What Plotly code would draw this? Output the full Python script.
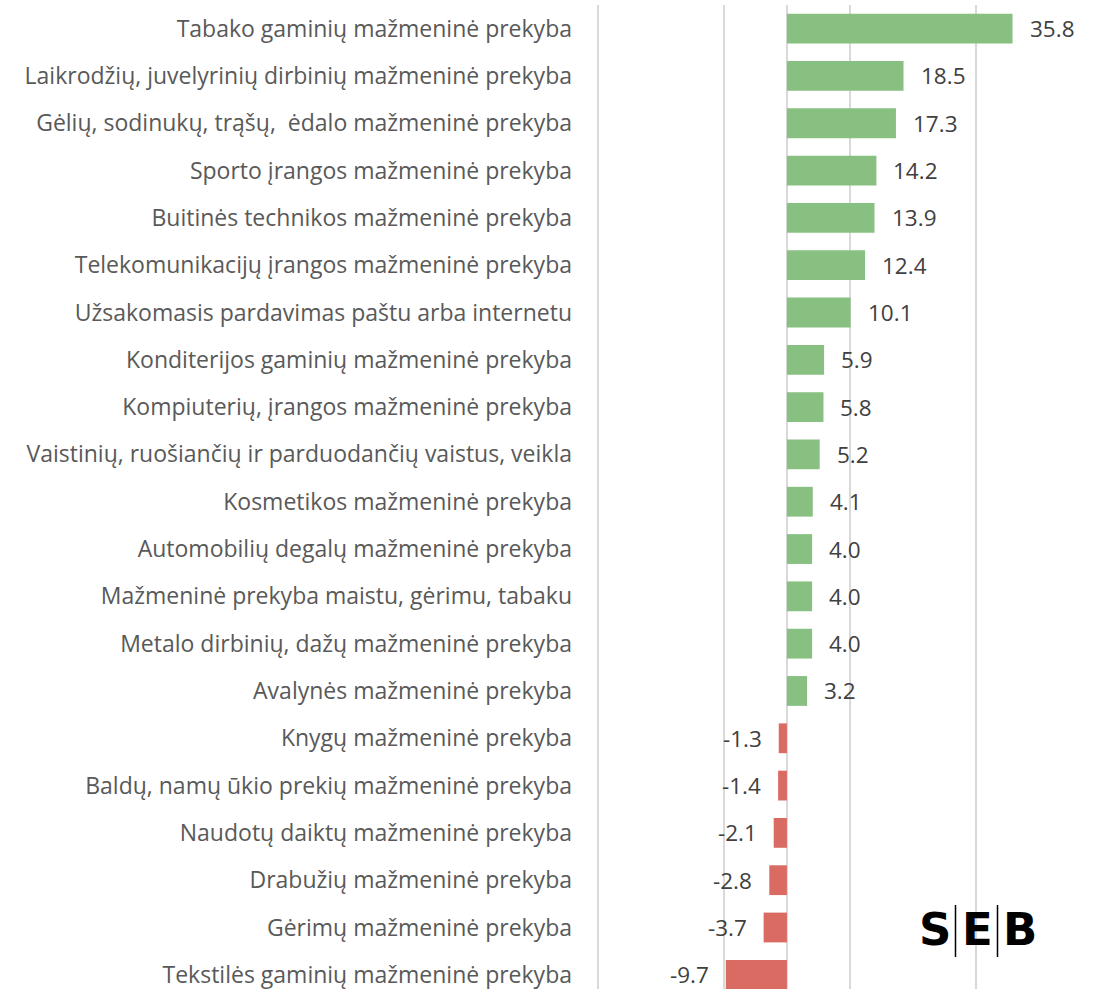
import plotly.graph_objects as go

categories = [
    "Tabako gaminių mažmeninė prekyba",
    "Laikrodžių, juvelyrinių dirbinių mažmeninė prekyba",
    "Gėlių, sodinukų, trąšų,\u00a0 ėdalo mažmeninė prekyba",
    "Sporto įrangos mažmeninė prekyba",
    "Buitinės technikos mažmeninė prekyba",
    "Telekomunikacijų įrangos mažmeninė prekyba",
    "Užsakomasis pardavimas paštu arba internetu",
    "Konditerijos gaminių mažmeninė prekyba",
    "Kompiuterių, įrangos mažmeninė prekyba",
    "Vaistinių, ruošiančių ir parduodančių vaistus, veikla",
    "Kosmetikos mažmeninė prekyba",
    "Automobilių degalų mažmeninė prekyba",
    "Mažmeninė prekyba maistu, gėrimu, tabaku",
    "Metalo dirbinių, dažų mažmeninė prekyba",
    "Avalynės mažmeninė prekyba",
    "Knygų mažmeninė prekyba",
    "Baldų, namų ūkio prekių mažmeninė prekyba",
    "Naudotų daiktų mažmeninė prekyba",
    "Drabužių mažmeninė prekyba",
    "Gėrimų mažmeninė prekyba",
    "Tekstilės gaminių mažmeninė prekyba",
]
values = [35.8, 18.5, 17.3, 14.2, 13.9, 12.4, 10.1, 5.9, 5.8, 5.2, 4.1, 4.0,
          4.0, 4.0, 3.2, -1.3, -1.4, -2.1, -2.8, -3.7, -9.7]
grid_values = [-30, -10, 0, 10, 30, 50]

GREEN = "#88c081"
RED = "#d96b63"
colors = [GREEN if v >= 0 else RED for v in values]
FONT = "Open Sans, sans-serif"

W, H = 1102, 989
ML, MR, MT, MB = 596, 0, 5, 0
PW, PH = W - ML - MR, H - MT - MB

fig = go.Figure()
fig.add_trace(go.Bar(
    y=categories, x=values, orientation="h",
    marker=dict(color=colors, line=dict(width=0)),
    width=0.63, hoverinfo="x+y",
))

for c, v in zip(categories, values):
    fig.add_annotation(
        x=v, y=c, xref="x", yref="y", text=f"{v:.1f}", showarrow=False,
        xanchor="left" if v >= 0 else "right",
        xshift=15 if v >= 0 else -15,
        font=dict(family=FONT, size=22.5, color="#404040"),
    )

# SEB logo
def px(x):
    return (x - ML) / PW

def py(y):
    return (H - MB - y) / PH

for letter, cx in [("S", 935), ("E", 977), ("B", 1020)]:
    fig.add_annotation(
        x=px(cx), y=py(929), xref="paper", yref="paper", text=f"<b>{letter}</b>",
        showarrow=False, xanchor="center", yanchor="middle",
        font=dict(family="DejaVu Sans", size=45, color="#000000"),
    )
for lx in [955.5, 997.5]:
    fig.add_shape(type="line", xref="paper", yref="paper",
                  x0=px(lx), x1=px(lx), y0=py(905), y1=py(957),
                  line=dict(color="#000000", width=1.5))

fig.update_layout(
    width=W, height=H,
    margin=dict(l=ML, r=MR, t=MT, b=MB),
    plot_bgcolor="white", paper_bgcolor="white",
    showlegend=False,
    xaxis=dict(
        range=[-30.3, 50], tickvals=grid_values, showticklabels=False,
        showgrid=True, gridcolor="#d9d9d9", gridwidth=1.5,
        zeroline=True, zerolinecolor="#d9d9d9", zerolinewidth=1.5,
        showline=False, fixedrange=True,
    ),
    yaxis=dict(
        type="category", categoryorder="array", categoryarray=categories,
        range=[20.3, -0.5], autorange=False,
        showgrid=False, zeroline=False, showline=False,
        ticks="", ticklabelstandoff=23,
        tickfont=dict(family=FONT, size=23, color="#595959"),
    ),
)

fig.write_html("out.html", config={"displayModeBar": False},
               post_script="document.body.style.margin='0';")
